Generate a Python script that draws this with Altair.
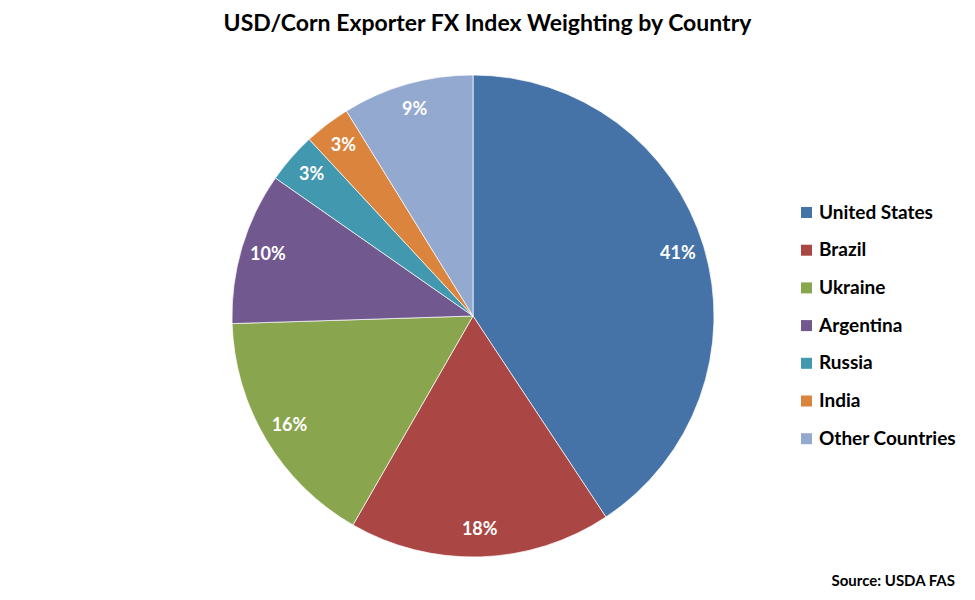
import altair as alt
import pandas as pd

countries = ["United States", "Brazil", "Ukraine", "Argentina", "Russia", "India", "Other Countries"]
weights = [40.7, 17.6, 16.2, 10.2, 3.4, 3.1, 8.8]
labels = ["41%", "18%", "16%", "10%", "3%", "3%", "9%"]
colors = ["#4572A7", "#AA4643", "#89A54E", "#71588F", "#4198AF", "#DB843D", "#93A9CF"]
order = list(range(len(countries)))

df = pd.DataFrame({"country": countries, "weight": weights, "label": labels, "order": order})

FONT = "Lato"
TOP = 50
CX, CY = 465, 316 - 8 - TOP

base = alt.Chart(df).encode(
    theta=alt.Theta("weight:Q", stack=True),
    order=alt.Order("order:Q"),
    detail="country:N",
)

pie = base.mark_arc(outerRadius=241, stroke="white", strokeWidth=0.7).encode(
    x=alt.value(CX),
    y=alt.value(CY),
    color=alt.Color(
        "country:N",
        scale=alt.Scale(domain=countries, range=colors),
        legend=alt.Legend(
            title=None,
            orient="none",
            legendX=789,
            legendY=212 - 8 - TOP - 9,
            padding=0,
            symbolType="square",
            symbolSize=121,
            symbolStrokeWidth=0,
            labelFont=FONT,
            labelFontSize=19,
            labelFontWeight="bold",
            labelColor="black",
            labelOffset=3,
            rowPadding=17.7,
        ),
    ),
)

text = base.mark_text(
    radius=214, font=FONT, fontSize=18, fontWeight="bold", color="white", baseline="middle"
).encode(text="label:N", x=alt.value(CX), y=alt.value(CY))

source = alt.Chart(pd.DataFrame({"t": ["Source: USDA FAS"]})).mark_text(
    font=FONT, fontSize=15, fontWeight="bold", color="black", align="right", baseline="middle"
).encode(text="t:N", x=alt.value(947), y=alt.value(581 - 8 - TOP))

chart = alt.layer(pie, text, source).properties(
    width=959,
    height=584 - TOP,
    autosize=alt.AutoSizeParams(type="none"),
    padding={"left": 0, "top": TOP, "right": 0, "bottom": 0},
    title=alt.TitleParams(
        "USD/Corn Exporter FX Index Weighting by Country",
        font=FONT, fontSize=23, fontWeight="bold", color="black",
        anchor="middle", offset=22,
    ),
).configure_view(stroke=None)

chart.save("out.html", embed_options={"renderer": "svg", "actions": False})
